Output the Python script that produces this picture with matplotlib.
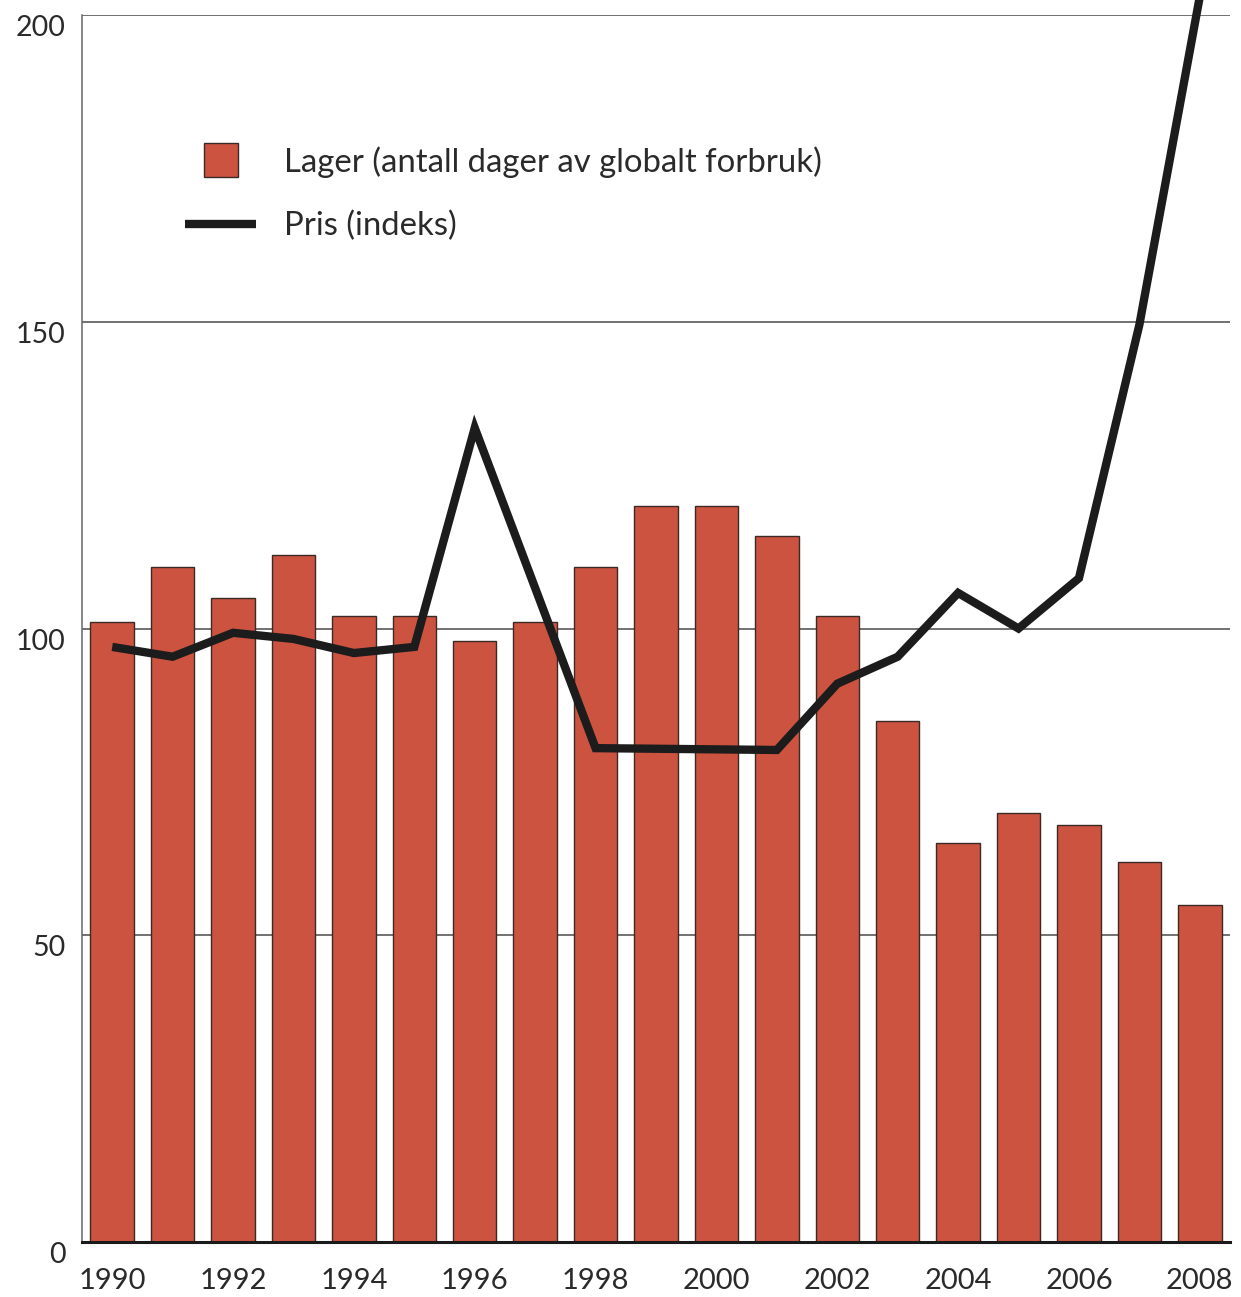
import matplotlib
matplotlib.use('Agg')
import matplotlib.pyplot as plt
from matplotlib.lines import Line2D
import numpy as np

plt.rcParams['font.family'] = ['Lato', 'DejaVu Sans']

# data
years = list(range(1990, 2009))
lager = [101, 110, 105, 112, 102, 102, 98, 101, 110, 120, 120, 115, 102, 85, 65, 70, 68, 62, 55]
pris = [97, 95.4, 99.3, 98.3, 96, 97, 132.7, 106.6, 80.5, 80.4, 80.3, 80.2, 91, 95.4, 105.8, 100, 108.2, 149.5, 203]
xticks = list(range(1990, 2009, 2))
yticks = [0, 50, 100, 150, 200]

bar_color = '#cd5341'
edge_color = '#3a2a26'
line_color = '#1c1c1c'

fig = plt.figure(figsize=(12.41, 12.97), dpi=100)
ax = fig.add_axes([82 / 1241, 1 - 1242 / 1297, 1148 / 1241, 1227 / 1297])

ax.bar(years, lager, width=0.72, color=bar_color, edgecolor=edge_color, linewidth=1.0, zorder=2)
ax.plot(years, pris, color=line_color, linewidth=6.0, solid_joinstyle='miter',
        solid_capstyle='butt', zorder=3, clip_on=False)

ax.set_xlim(1989.5, 2008.5)
ax.set_ylim(0, 200)

# grid lines
for y in yticks[1:]:
    ax.axhline(y, color='#4a4a4a', linewidth=1.1, zorder=1)

for side in ['top', 'right']:
    ax.spines[side].set_visible(False)
ax.spines['left'].set_color('#666666')
ax.spines['left'].set_linewidth(1.1)
ax.spines['bottom'].set_color('#1a1a1a')
ax.spines['bottom'].set_linewidth(2.2)
ax.spines['bottom'].set_zorder(4)

ax.set_xticks(xticks)
ax.set_xticklabels([str(x) for x in xticks])
ax.set_yticks(yticks)
ax.set_yticklabels([str(y) for y in yticks], va='top')
ax.tick_params(axis='x', length=0, pad=19, labelsize=21, labelcolor='#2a2a2a')
ax.tick_params(axis='y', length=0, pad=12, labelsize=20.5, labelcolor='#2a2a2a')

handles = [
    Line2D([], [], marker='s', markersize=25, linestyle='none',
           markerfacecolor=bar_color, markeredgecolor=edge_color, markeredgewidth=1.0),
    Line2D([], [], color=line_color, linewidth=6.0, solid_capstyle='butt'),
]
labels = ['Lager (antall dager av globalt forbruk)', 'Pris (indeks)']
leg = ax.legend(handles, labels, loc='upper left', bbox_to_anchor=(0.09, 0.893),
                frameon=False, fontsize=23.7, handlelength=2.15, handletextpad=0.85,
                labelspacing=1.0, borderpad=0, borderaxespad=0)
for t in leg.get_texts():
    t.set_color('#2a2a2a')

fig.savefig('out.png', dpi=100)
